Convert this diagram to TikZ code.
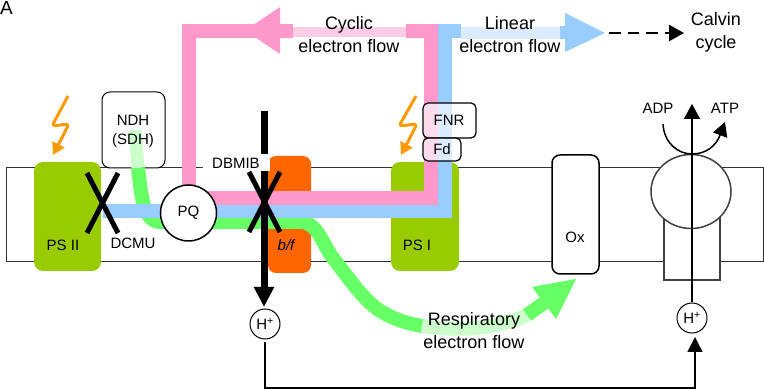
\documentclass[tikz,border=0pt]{standalone}
\usepackage{fontspec}
\setmainfont{Liberation Sans}
\usetikzlibrary{arrows.meta}
\definecolor{pinkflow}{HTML}{FF99CC}
\definecolor{palepink}{HTML}{FFCCE5}
\definecolor{blueflow}{HTML}{99CCFF}
\definecolor{paleblue}{HTML}{DDEBFF}
\definecolor{greenflow}{HTML}{66FF66}
\definecolor{palegreen}{HTML}{CCFFCC}
\definecolor{psgreen}{HTML}{99CC00}
\definecolor{bfred}{HTML}{FF6600}
\definecolor{boltc}{HTML}{FF9900}
\begin{document}
\begin{tikzpicture}[x=1pt, y=-1pt,
	main/.style = {font=\fontsize{15}{19}\selectfont, align=center, inner sep=0pt},
	big/.style = {font=\fontsize{18}{23}\selectfont, align=center, inner sep=0pt},
	complex/.style = {draw=black, rounded corners=8pt, line width=1pt, fill=white},
	photo/.style = {fill=psgreen, rounded corners=9pt},
	hion/.style = {main, draw, circle, fill=white, minimum size=30pt, line width=1pt},
	bolt/.style = {draw=boltc, line width=3pt, line join=round, rounded corners=3pt, -{Triangle[length=12pt,width=13pt]}},
	block/.style = {line width=5pt, black}]

	\useasboundingbox (0,0) rectangle (764,390);
	\node[font=\fontsize{19}{22}\selectfont, inner sep=0pt] (panel) at (6.5,8) {A};

	% membrane and complexes
	\draw[line width=1pt, black!80] (6,168) rectangle (763.5,262);
	\fill[photo] (34,162) rectangle (101,271);
	\fill[photo] (391,162) rectangle (459,271);
	\fill[bfred, rounded corners=8pt] (268,156) rectangle (311,273);
	\draw[complex] (102,92) rectangle (165,168);
	\draw[complex, line width=1.5pt] (552,155) rectangle (599,274);
	\draw[line width=1.5pt, black!75, fill=white] (664,210) rectangle (720,280);
	\draw[line width=1.5pt, black!75, fill=white] (691,191.5) ellipse [x radius=40, y radius=37];

	\node[main] (ps2) at (63,245) {PS II};
	\node[main] (ps1) at (417,245) {PS I};
	\node[main] (ox) at (575,237) {Ox};
	\node[main, font=\fontsize{15}{19}\selectfont\itshape] (bf) at (286,245) {b/f};

	% flows
	\coordinate (rs1) at (135,130);
	\coordinate (rs2) at (138,168);
	\coordinate (rs3) at (422,326);
	\coordinate (rs4) at (527,315);
	\draw[palegreen, line width=13pt] (rs1) -- (rs2);
	\draw[greenflow, line width=14pt, line join=round] (rs2) .. controls (141,190) and (142,222) .. (160,222) -- (300,222)
		.. controls (318,222) and (322,244) .. (333,258) .. controls (350,280) and (365,302) .. (382,312)
		.. controls (395,320) and (410,324) .. (rs3);
	\draw[palegreen, line width=14pt] (rs3) .. controls (455,331) and (495,330) .. (rs4);
	\draw[greenflow, line width=14pt] (rs4) -- (544,303);
	\fill[greenflow] (576,279) -- (532,287) -- (556,319) -- cycle;
	\node[main] (ndh) at (133,131.5) {NDH\\(SDH)};

	\coordinate (pqup) at (189,190);
	\coordinate (bl) at (103,211);
	\draw[blueflow, line width=14pt] (bl) -- (444.5,211) -- (444.5,31) -- (461,31);
	\draw[paleblue, line width=12pt] (461,33) -- (560,33);
	\draw[blueflow, line width=13pt] (560,33) -- (570,33);
	\fill[blueflow] (565,13) -- (605,33) -- (565,52) -- cycle;

	\draw[pinkflow, line width=14pt] (pqup) -- (189,31) -- (293,31);
	\draw[palepink, line width=10pt] (293,32.5) -- (406,32.5);
	\draw[pinkflow, line width=14pt] (406,31) -- (431,31) -- (431,198) -- (pqup |- 0,198);
	\fill[pinkflow] (245,30.5) -- (280,7) -- (280,54) -- cycle;

	% electron carriers
	\node[main, draw, circle, fill=white, line width=1.5pt, minimum size=56pt] (pq) at (188.5,213) {PQ};
	\draw[complex, rounded corners=5pt, fill opacity=0.65, line width=1.2pt] (423,103) rectangle (476,138);
	\draw[complex, rounded corners=5pt, fill opacity=0.65, line width=1.2pt] (423,138) rectangle (461,161);
	\node[main] (fnr) at (449,120) {FNR};
	\node[main] (fd) at (442,149) {Fd};

	% inhibitors
	\node[hion] (hleft) at (265,324) {H\textsuperscript{+}};
	\coordinate (dbtop) at (264,111);
	\coordinate (dbtip) at (264,307);
	\draw[line width=7pt, -{Triangle[length=20pt,width=19pt]}] (dbtop) -- (dbtip);
	\node[main, fill=white, minimum width=67pt, minimum height=17pt] (dbmib) at (236,163) {DBMIB};
	\draw[block] (87,233) -- (118,173);
	\draw[block] (118,233) -- (87,173);
	\draw[block] (249,232) -- (280,172);
	\draw[block] (280,232) -- (249,172);
	\node[main] (dcmu) at (133,243) {DCMU};

	% light
	\draw[bolt] (68,96) -- (52,126) -- (69,124) -- (53,155);
	\draw[bolt] (416,96) -- (399,126) -- (417,124) -- (401,155);

	% proton circuit
	\node[hion] (hright) at (692,318) {H\textsuperscript{+}};
	\coordinate (bend) at (695,388);
	\coordinate (hin) at (695,337);
	\coordinate (atptip) at (692,104);
	\draw[line width=1.5pt, shorten <=3pt, -{Triangle[length=15pt,width=15pt]}] (hleft.south) |- (bend) -- (hin);
	\draw[line width=1.5pt, -{Triangle[length=15pt,width=16pt]}] (hright) -- (atptip);
	\coordinate (adpin) at (663,124);
	\coordinate (atpout) at (725,122);
	\draw[line width=1.5pt, -{Triangle[length=14pt,width=15pt]}] (adpin) .. controls (664,143) and (678,154) .. (692,154) .. controls (706,154) and (716,146) .. (atpout);
	\node[main] (adp) at (658,108) {ADP};
	\node[main] (atp) at (725,108) {ATP};

	% labels
	\node[big] (cyclic) at (349,34.5) {Cyclic\\electron flow};
	\node[big] (linear) at (510,34.5) {Linear\\electron flow};
	\node[big] (resp) at (474,330.5) {Respiratory\\electron flow};
	\node[big] (calvin) at (716,32.5) {Calvin\\cycle};
	\coordinate (dashend) at (684,33);
	\coordinate (dashstart) at (609,33);
	\draw[line width=2.5pt, dash pattern=on 11.5pt off 7pt, -{Triangle[length=15pt,width=16pt]}] (dashstart) -- (dashend);
\end{tikzpicture}
\end{document}
